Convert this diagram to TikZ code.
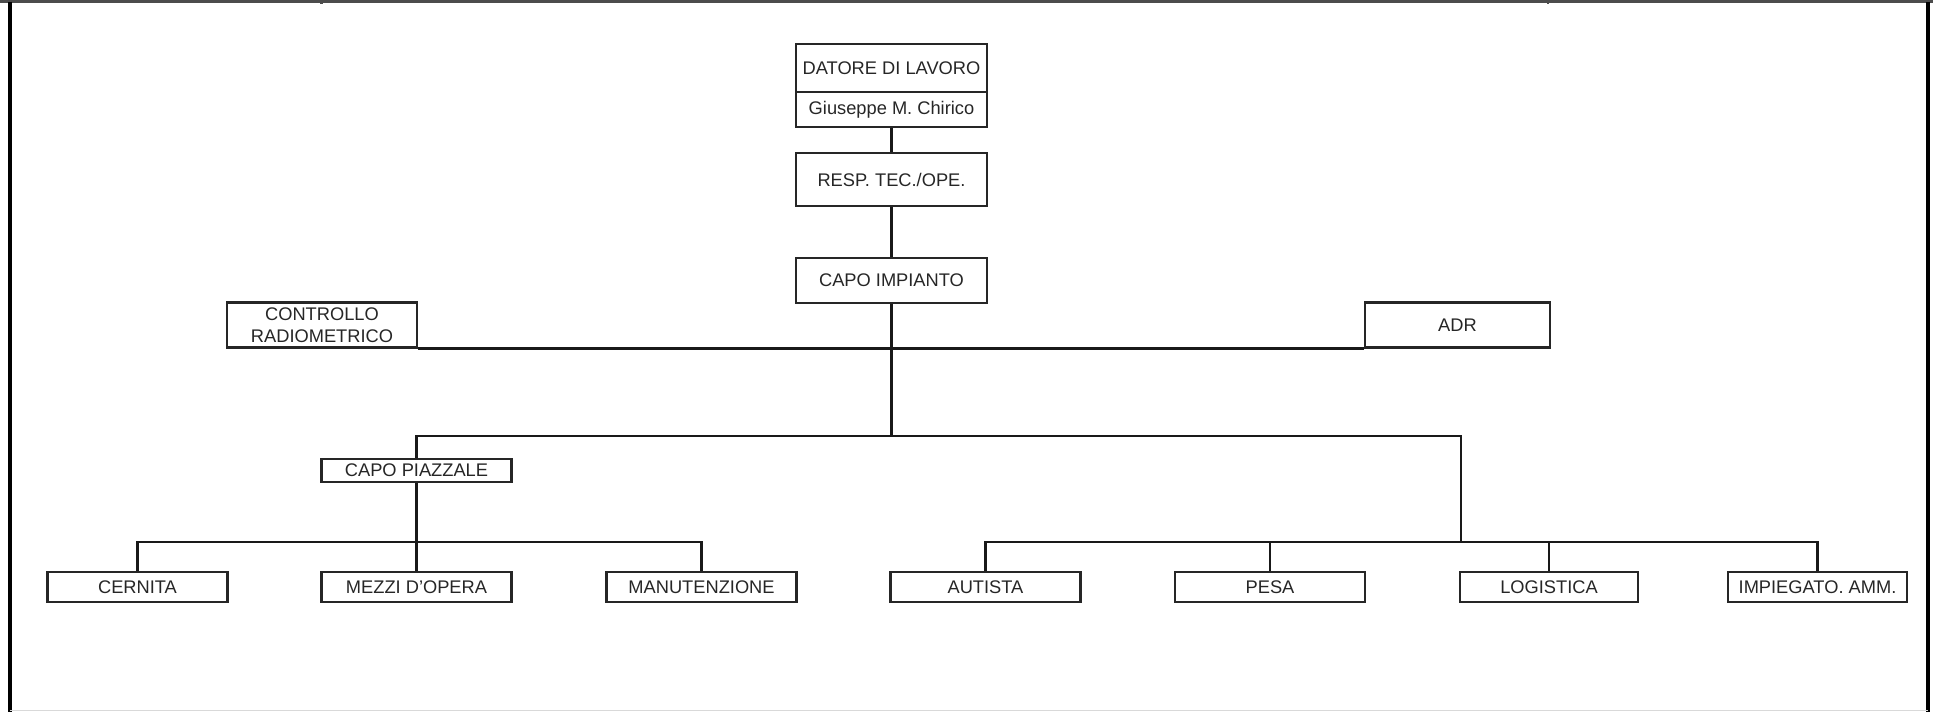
\documentclass[tikz,border=0pt]{standalone}
\usepackage{fontspec}
\setmainfont{Liberation Sans}
\usepackage{xcolor}
\usepackage{tikz}
\usetikzlibrary{positioning}

\begin{document}
\begin{tikzpicture}[
        x=0.02cm, y=-0.02cm,
        unitbox/.style={
            draw=black!85,
            line width=1.25pt,
            rectangle,
            inner sep=0pt,
            align=center,
            text=black!85,
            font=\fontsize{10.4}{12.6}\selectfont
        },
        boxsize/.style 2 args={
            minimum width=#1*0.02cm,
            minimum height=#2*0.02cm
        },
        link/.style={line width=1.25pt, black!90}
    ]

                \useasboundingbox (0,0) rectangle (1933,712);

                % frame
                \draw[line width=1.7pt, black!70] (0,2) -- (1933,2);
                \draw[line width=1.5pt, black!70] (321.5,0) -- (321.5,4);
                \draw[line width=1.5pt, black!70] (1548,0) -- (1548,4);
                \draw[line width=2.3pt] (10,2) -- (10,712);
                \draw[line width=2.3pt] (1927.5,2) -- (1927.5,712);
                \draw[line width=1pt, black!15] (10,710.5) -- (1927.5,710.5);

                % top of the chart
                \node[unitbox, boxsize={191}{48}] (datore) at (891.5,68) {DATORE DI LAVORO};
                \node[unitbox, boxsize={191}{35}] (chirico) at (891.5,109.5) {Giuseppe M. Chirico};
                \node[unitbox, boxsize={191}{53}] (resp) at (891.5,179.5) {RESP. TEC./OPE.};
                \node[unitbox, boxsize={191}{45}] (capo) at (891.5,280.5) {CAPO IMPIANTO};

                \node[unitbox, boxsize={190}{45}] (ctrl) at (322,325) {CONTROLLO\\RADIOMETRICO};
                \node[unitbox, boxsize={185}{45}] (adr) at (1457.5,325) {ADR};

                \node[unitbox, boxsize={190}{23}] (piazzale) at (416.5,470.5) {CAPO PIAZZALE};

                % bottom row
                \node[unitbox, boxsize={180}{30}] (cernita) at (137.5,587) {CERNITA};
                \node[unitbox, boxsize={190}{30}] (mezzi) at (416.5,587) {MEZZI D'OPERA};
                \node[unitbox, boxsize={190}{30}] (manut) at (701.5,587) {MANUTENZIONE};
                \node[unitbox, boxsize={190}{30}] (autista) at (985.5,587) {AUTISTA};
                \node[unitbox, boxsize={190}{30}] (pesa) at (1270,587) {PESA};
                \node[unitbox, boxsize={178}{30}] (logistica) at (1549,587) {LOGISTICA};
                \node[unitbox, boxsize={179}{30}] (impiegato) at (1817.5,587) {IMPIEGATO. AMM.};

                \coordinate (hub) at (891.5,436);
                \coordinate (jL) at (416.5,542);
                \coordinate (jR) at (1461,542);

                % connectors
                \draw[link] (chirico.south) -- (resp.north);
                \draw[link] (resp.south) -- (capo.north);
                \draw[link] (capo.south) -- (hub);
                \draw[link] (ctrl.south east) -- (adr.south west);
                \draw[link] (piazzale.north) |- (hub) -| (jR);

                \draw[link] (piazzale.south) -- (mezzi.north);
                \draw[link] (cernita.north) |- (jL) -| (manut.north);

                \draw[link] (autista.north) |- (jR) -| (impiegato.north);
                \draw[link] (pesa.north) -- (pesa.north |- jR);
                \draw[link] (logistica.north) -- (logistica.north |- jR);

\end{tikzpicture}
\end{document}
